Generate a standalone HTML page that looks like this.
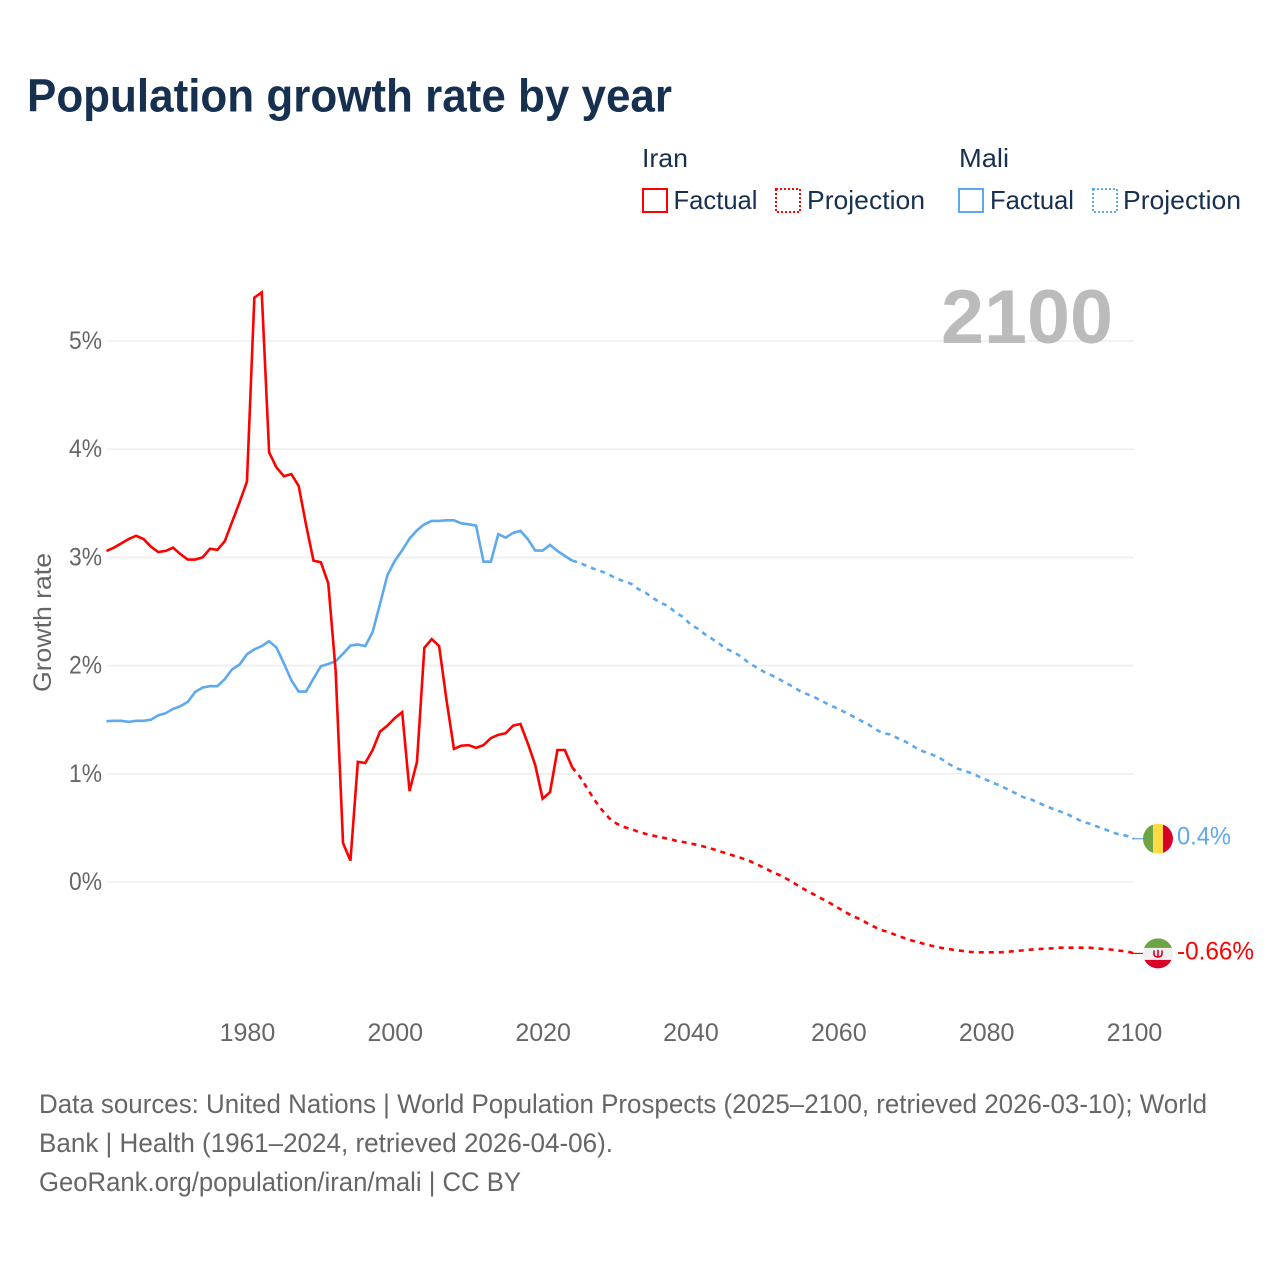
<!DOCTYPE html>
<html lang="en">
<head>
<meta charset="utf-8">
<title>Population growth rate by year</title>
<style>
html,body{margin:0;padding:0;background:#fff;width:1280px;height:1280px;overflow:hidden}
svg{display:block}
text{font-family:"Liberation Sans",sans-serif}
.legend{fill:#17304f;font-size:26px}
.foot{fill:#666;font-size:26.5px}
.tick{fill:#666;font-size:25px}
</style>
</head>
<body>
<svg id="chart" xmlns="http://www.w3.org/2000/svg" width="1280" height="1280" viewBox="0 0 1280 1280">
  <rect x="0" y="0" width="1280" height="1280" fill="#fff"/>
  <text x="27" y="111.500" font-size="46" font-weight="700" fill="#17304f" textLength="645" lengthAdjust="spacingAndGlyphs">Population growth rate by year</text>

  <g>
    <text class="legend" x="642" y="167" textLength="46" lengthAdjust="spacingAndGlyphs">Iran</text>
    <rect x="643" y="189" width="24" height="23" fill="none" stroke="#ff0000" stroke-width="2"/>
    <text class="legend" x="673.500" y="209" textLength="84" lengthAdjust="spacingAndGlyphs">Factual</text>
    <rect x="776" y="189" width="24" height="23" fill="none" stroke="#ff0000" stroke-width="2" stroke-dasharray="2 2"/>
    <text class="legend" x="807" y="209" textLength="118" lengthAdjust="spacingAndGlyphs">Projection</text>
    <text class="legend" x="959" y="167" textLength="50" lengthAdjust="spacingAndGlyphs">Mali</text>
    <rect x="959" y="189" width="24" height="23" fill="none" stroke="#5ea9ee" stroke-width="2"/>
    <text class="legend" x="990" y="209" textLength="84" lengthAdjust="spacingAndGlyphs">Factual</text>
    <rect x="1093" y="189" width="24" height="23" fill="none" stroke="#5ea9ee" stroke-width="2" stroke-dasharray="2 2"/>
    <text class="legend" x="1123" y="209" textLength="118" lengthAdjust="spacingAndGlyphs">Projection</text>
  </g>

  <g id="grid"></g>
  <g id="yticks"></g>
  <g id="xticks"></g>
  <text x="941" y="343" font-size="76" font-weight="700" fill="#bbbbbb" textLength="172" lengthAdjust="spacingAndGlyphs">2100</text>
  <text class="tick" transform="translate(51 692) rotate(-90)" x="0" y="0" textLength="139" lengthAdjust="spacingAndGlyphs">Growth rate</text>

  <g id="series"></g>
  <g id="ends"></g>

  <g>
    <text class="foot" x="39" y="1113" textLength="1168" lengthAdjust="spacingAndGlyphs">Data sources: United Nations | World Population Prospects (2025–2100, retrieved 2026-03-10); World</text>
    <text class="foot" x="39" y="1152" textLength="574" lengthAdjust="spacingAndGlyphs">Bank | Health (1961–2024, retrieved 2026-04-06).</text>
    <text class="foot" x="39" y="1191" textLength="482" lengthAdjust="spacingAndGlyphs">GeoRank.org/population/iran/mali | CC BY</text>
  </g>
</svg>
<script>
const yTickValues = [0, 1, 2, 3, 4, 5];
const yTickLabels = ["0%", "1%", "2%", "3%", "4%", "5%"];
const xTickValues = [1980, 2000, 2020, 2040, 2060, 2080, 2100];
const xTickLabels = ["1980", "2000", "2020", "2040", "2060", "2080", "2100"];

const factualYears = [1961,1962,1963,1964,1965,1966,1967,1968,1969,1970,1971,1972,1973,1974,1975,1976,1977,1978,1979,1980,1981,1982,1983,1984,1985,1986,1987,1988,1989,1990,1991,1992,1993,1994,1995,1996,1997,1998,1999,2000,2001,2002,2003,2004,2005,2006,2007,2008,2009,2010,2011,2012,2013,2014,2015,2016,2017,2018,2019,2020,2021,2022,2023,2024];
const projectionYears = [2024,2025,2026,2027,2028,2029,2030,2031,2032,2033,2034,2035,2036,2037,2038,2039,2040,2041,2042,2043,2044,2045,2046,2047,2048,2049,2050,2051,2052,2053,2054,2055,2056,2057,2058,2059,2060,2061,2062,2063,2064,2065,2066,2067,2068,2069,2070,2071,2072,2073,2074,2075,2076,2077,2078,2079,2080,2081,2082,2083,2084,2085,2086,2087,2088,2089,2090,2091,2092,2093,2094,2095,2096,2097,2098,2099,2100];

const iranFactual = [3.06,3.09,3.13,3.17,3.20,3.17,3.10,3.05,3.06,3.09,3.03,2.98,2.98,3.00,3.08,3.07,3.15,3.33,3.51,3.70,5.40,5.45,3.97,3.83,3.75,3.77,3.66,3.30,2.97,2.955,2.76,1.95,0.36,0.197,1.11,1.10,1.22,1.39,1.445,1.515,1.57,0.84,1.11,2.165,2.245,2.18,1.68,1.23,1.26,1.265,1.24,1.265,1.33,1.36,1.375,1.445,1.46,1.28,1.08,0.77,0.83,1.22,1.22,1.06];
const iranProjection = [1.06,0.977,0.869,0.76,0.668,0.59,0.54,0.508,0.49,0.462,0.444,0.428,0.413,0.40,0.382,0.37,0.357,0.342,0.323,0.305,0.283,0.262,0.24,0.219,0.194,0.163,0.13,0.095,0.065,0.03,-0.01,-0.052,-0.09,-0.126,-0.163,-0.20,-0.24,-0.28,-0.317,-0.345,-0.385,-0.419,-0.447,-0.468,-0.496,-0.52,-0.542,-0.56,-0.58,-0.595,-0.61,-0.62,-0.632,-0.638,-0.647,-0.65,-0.65,-0.65,-0.65,-0.644,-0.638,-0.632,-0.625,-0.62,-0.616,-0.613,-0.607,-0.607,-0.607,-0.607,-0.607,-0.613,-0.62,-0.625,-0.635,-0.64,-0.66];
const maliFactual = [1.486,1.49,1.49,1.48,1.49,1.49,1.50,1.54,1.56,1.60,1.625,1.665,1.757,1.797,1.81,1.81,1.875,1.966,2.01,2.105,2.15,2.18,2.225,2.166,2.02,1.865,1.76,1.76,1.88,1.994,2.015,2.04,2.11,2.185,2.195,2.18,2.31,2.57,2.835,2.967,3.066,3.174,3.25,3.306,3.337,3.337,3.343,3.343,3.315,3.306,3.294,2.96,2.96,3.214,3.183,3.226,3.245,3.168,3.063,3.063,3.115,3.06,3.014,2.97];
const maliProjection = [2.97,2.95,2.92,2.893,2.87,2.84,2.804,2.78,2.755,2.705,2.67,2.62,2.58,2.55,2.49,2.45,2.38,2.34,2.287,2.243,2.197,2.15,2.12,2.074,2.02,1.98,1.94,1.91,1.874,1.837,1.80,1.757,1.73,1.70,1.665,1.63,1.60,1.565,1.53,1.493,1.459,1.413,1.376,1.364,1.33,1.30,1.26,1.22,1.194,1.17,1.135,1.09,1.05,1.03,1.006,0.975,0.945,0.914,0.89,0.852,0.82,0.784,0.766,0.735,0.704,0.677,0.652,0.627,0.59,0.56,0.538,0.513,0.49,0.46,0.44,0.427,0.40];

const endLabelIran = "-0.66%";
const endLabelMali = "0.4%";

const SVGNS = "http://www.w3.org/2000/svg";
const RED = "#ff0000";
const BLUE = "#5ea9ee";

function xScale(year) { return 106.5 + (year - 1961) * 7.392; }
function yScale(value) { return 882 - value * 108.2; }

function make(tag, attrs, parent) {
  const el = document.createElementNS(SVGNS, tag);
  for (const k in attrs) el.setAttribute(k, attrs[k]);
  parent.appendChild(el);
  return el;
}
function pathFrom(years, values) {
  return values.map(function (v, i) {
    return (i ? "L" : "M") + xScale(years[i]).toFixed(2) + " " + yScale(v).toFixed(2);
  }).join(" ");
}

const grid = document.getElementById("grid");
const yticks = document.getElementById("yticks");
const xticks = document.getElementById("xticks");
const series = document.getElementById("series");
const ends = document.getElementById("ends");

yTickValues.forEach(function (v, i) {
  const line = make("line", {x1: 107, x2: 1134, y1: yScale(v), y2: yScale(v), stroke: "#eeeeee", "stroke-width": 1.6}, grid);
  
  
  const t = make("text", {x: 69, y: yScale(v) + 8, class: "tick", textLength: 33, lengthAdjust: "spacingAndGlyphs"}, yticks);
  
  
  t.textContent = yTickLabels[i];
});

xTickValues.forEach(function (year, i) {
  const t = make("text", {x: xScale(year) + 0.5, y: 1041, "text-anchor": "middle", class: "tick"}, xticks);
  
  
  t.textContent = xTickLabels[i];
});

const iranProjectionLine = make("path", {d: pathFrom(projectionYears, iranProjection), fill: "none", stroke: RED, "stroke-width": 2.6, "stroke-dasharray": "5 5"}, series);


const maliProjectionLine = make("path", {d: pathFrom(projectionYears, maliProjection), fill: "none", stroke: BLUE, "stroke-width": 2.6, "stroke-dasharray": "5 5"}, series);


const maliFactualLine = make("path", {d: pathFrom(factualYears, maliFactual), fill: "none", stroke: BLUE, "stroke-width": 2.6, "stroke-linejoin": "miter"}, series);


const iranFactualLine = make("path", {d: pathFrom(factualYears, iranFactual), fill: "none", stroke: RED, "stroke-width": 2.6, "stroke-linejoin": "miter"}, series);



const maliEndY = yScale(maliProjection[maliProjection.length - 1]);
const iranEndY = yScale(iranProjection[iranProjection.length - 1]);
const endX = xScale(2100);
const flagX = endX + 24;

const maliConnector = make("line", {x1: endX - 2, x2: flagX - 15, y1: maliEndY, y2: maliEndY, stroke: BLUE, "stroke-width": 1.2}, ends);


const iranConnector = make("line", {x1: endX - 1, x2: flagX - 15, y1: iranEndY, y2: iranEndY, stroke: RED, "stroke-width": 1.2}, ends);



const defs = make("defs", {}, ends);
const clipMali = make("clipPath", {id: "clip-mali"}, defs);
make("circle", {cx: flagX, cy: maliEndY, r: 15}, clipMali);
const clipIran = make("clipPath", {id: "clip-iran"}, defs);
make("circle", {cx: flagX, cy: iranEndY, r: 15}, clipIran);

const maliFlag = make("g", {"clip-path": "url(#clip-mali)"}, ends);


make("rect", {x: flagX - 15, y: maliEndY - 15, width: 10, height: 30, fill: "#6da544"}, maliFlag);
make("rect", {x: flagX - 5, y: maliEndY - 15, width: 10, height: 30, fill: "#ffda44"}, maliFlag);
make("rect", {x: flagX + 5, y: maliEndY - 15, width: 10, height: 30, fill: "#d80027"}, maliFlag);

const iranFlag = make("g", {"clip-path": "url(#clip-iran)"}, ends);


make("rect", {x: flagX - 15, y: iranEndY - 15, width: 30, height: 30, fill: "#f0f0f0"}, iranFlag);
make("rect", {x: flagX - 15, y: iranEndY - 15, width: 30, height: 9.500, fill: "#6da544"}, iranFlag);
make("rect", {x: flagX - 15, y: iranEndY + 6.500, width: 30, height: 9, fill: "#d80027"}, iranFlag);
make("path", {d: "M" + (flagX - 4) + " " + (iranEndY - 3) + " v3.500 q0 3 4 3 q4 0 4 -3 v-3.500 M" + flagX + " " + (iranEndY - 3.500) + " v7", fill: "none", stroke: "#d80027", "stroke-width": 1.600}, iranFlag);

const maliValue = make("text", {x: 1177, y: maliEndY + 6, "font-size": 25, fill: BLUE, textLength: 54, lengthAdjust: "spacingAndGlyphs"}, ends);


maliValue.textContent = endLabelMali;
const iranValue = make("text", {x: 1177, y: iranEndY + 6, "font-size": 25, fill: RED, textLength: 77, lengthAdjust: "spacingAndGlyphs"}, ends);


iranValue.textContent = endLabelIran;
</script>
</body>
</html>
